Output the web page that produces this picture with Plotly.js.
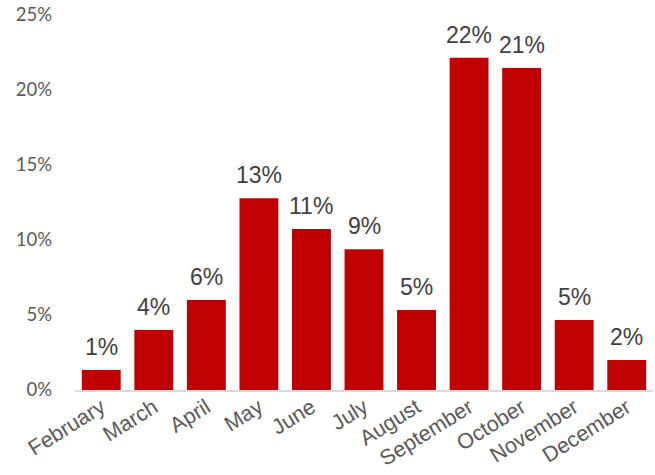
<!DOCTYPE html>
<html>
<head>
<meta charset="utf-8">
<script src="https://cdn.plot.ly/plotly-3.0.1.min.js"></script>
<style>html,body{margin:0;padding:0;background:#fff;}#chart{width:655px;height:475px;}</style>
</head>
<body>
<div id="chart"></div>
<script>
const months = ["February","March","April","May","June","July","August","September","October","November","December"];
const shares = [0.0133, 0.040, 0.060, 0.1278, 0.1073, 0.0938, 0.0533, 0.2215, 0.2146, 0.0467, 0.020];
const yTickVals = [0, 0.05, 0.10, 0.15, 0.20, 0.25];
const yTickText = ["0%","5%","10%","15%","20%","25%"];

const trace = {
  type: "bar",
  x: months,
  y: shares,
  marker: {color: "#C00000"},
  hoverinfo: "skip"
};

const labels = months.map((m, i) => ({
  x: m, y: shares[i], xref: "x", yref: "y",
  text: Math.round(shares[i] * 100) + "%",
  showarrow: false, yanchor: "bottom", yshift: 8,
  font: {family: "Liberation Sans, Arial, sans-serif", size: 23, color: "#404040"}
}));

const layout = {
  width: 655, height: 475,
  margin: {l: 75, r: 2, t: 15, b: 85},
  paper_bgcolor: "#fff", plot_bgcolor: "#fff",
  bargap: 0.26,
  showlegend: false,
  annotations: labels,
  font: {family: "Liberation Sans, Arial, sans-serif", color: "#595959"},
  xaxis: {
    type: "category",
    tickangle: -32,
    tickfont: {size: 21.5, color: "#595959"},
    ticklabelstandoff: -5,
    showline: true, linecolor: "#D9D9D9", linewidth: 1.5,
    ticks: "", showgrid: false, zeroline: false,
    fixedrange: true
  },
  yaxis: {
    range: [0, 0.25],
    tickvals: yTickVals, ticktext: yTickText,
    tickfont: {family: "Lato, Carlito, sans-serif", size: 18.5, color: "#595959"},
    ticklabelstandoff: 22,
    showgrid: false, zeroline: false, showline: false, ticks: "",
    fixedrange: true
  }
};

Plotly.newPlot("chart", [trace], layout, {displayModeBar: false, staticPlot: true});
</script>
</body>
</html>
